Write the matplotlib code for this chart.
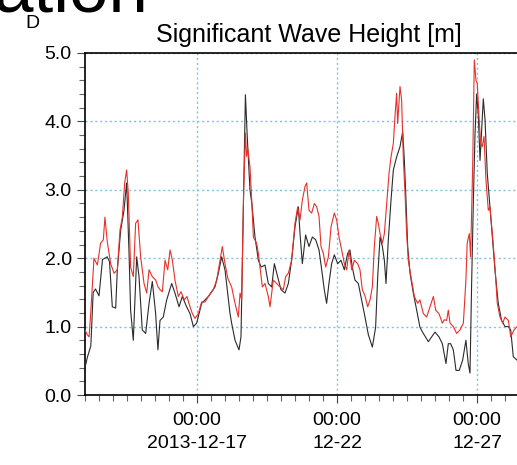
import matplotlib
matplotlib.use('Agg')
import matplotlib.pyplot as plt
import matplotlib.dates as mdates
import numpy as np
from matplotlib.ticker import MultipleLocator

plt.rcParams['font.family'] = ['Liberation Sans', 'DejaVu Sans']

start = np.datetime64('2013-12-13T00:00')

# 黑线: 小时 (从 12-13 00:00 起) 和有效波高 [m]
black_hours = [0, 2, 5, 7, 9, 12, 15, 19, 21, 23.4, 26.3, 27.7, 30.6, 33.4, 35.7, 37.7,
               39.1, 41.4, 44.3, 46.3, 49.1, 52, 54.9, 57.7, 60.5, 62.5, 64.3, 67.1, 70,
               74.3, 77.1, 80.6, 83.4, 87.1, 90, 92.9, 95.7, 100, 105.7, 111.4, 114.3,
               117.1, 120, 122.5, 124.3, 125.7, 128.6, 132, 133.7, 135.5, 137.5, 139,
               141.4, 143, 145.7, 148.6, 151, 154.3, 157.1, 160, 162.3, 165.1, 168,
               171.4, 174.3, 177.1, 180, 182.9, 184.3, 186.3, 189.1, 192, 194.9, 197.7,
               200.6, 202.9, 205.1, 207.1, 209.1, 211.4, 213.7, 216.6, 219.4, 222.3,
               225.1, 227.1, 229.1, 231.4, 234.3, 237.1, 240, 242.9, 246.3, 249.1,
               250.9, 252.9, 254.9, 256.6, 258, 260, 262.3, 264.3, 267.1, 270, 272.3,
               273.7, 274.9, 276.6, 278.6, 281.4, 284.3, 287.1, 290, 294.3, 297.1, 300,
               303.4, 306.3, 309.4, 311.4, 313.4, 315.7, 318, 320.8, 323.7, 326.5,
               328.5, 330, 331.4, 332.9, 334.3, 335.7, 337.1, 338.6, 340, 341.4, 342.9,
               344.8, 347.1, 349.4, 351.4, 354.2, 357.1, 360, 362.9, 364.9, 367.1,
               370.3, 373]
black_hs = [0.40, 0.55, 0.72, 1.50, 1.55, 1.45, 1.98, 2.02, 1.95, 1.29, 1.27, 1.83, 2.41,
            2.70, 3.10, 2.10, 1.24, 0.80, 2.02, 1.73, 0.95, 0.90, 1.34, 1.66, 1.20, 0.66,
            1.09, 1.14, 1.39, 1.63, 1.49, 1.29, 1.44, 1.29, 1.19, 1.00, 1.05, 1.34, 1.44,
            1.58, 1.78, 2.02, 1.83, 1.45, 1.19, 1.05, 0.80, 0.66, 0.85, 2.50, 4.39, 3.80,
            3.00, 2.80, 2.31, 1.97, 1.87, 1.90, 1.63, 1.58, 1.92, 1.73, 1.54, 1.49, 1.63,
            1.97, 2.46, 2.75, 2.36, 1.92, 2.34, 2.17, 2.31, 2.27, 2.12, 1.83, 1.54, 1.34,
            1.63, 1.92, 2.05, 1.92, 1.97, 1.83, 2.07, 2.12, 1.87, 1.68, 1.63, 1.39, 1.14,
            0.88, 0.70, 0.99, 1.73, 2.31, 2.17, 1.97, 1.63, 2.27, 2.85, 3.29, 3.48, 3.63,
            3.85, 3.44, 2.95, 2.17, 1.78, 1.49, 1.24, 0.99, 0.90, 0.78, 0.85, 0.92, 0.85,
            0.75, 0.46, 0.75, 0.75, 0.66, 0.36, 0.36, 0.51, 0.80, 0.46, 0.32, 1.63, 2.85,
            3.82, 4.40, 4.10, 3.43, 3.87, 4.33, 4.02, 3.24, 2.75, 2.26, 1.83, 1.34, 1.09,
            1.00, 1.00, 0.95, 0.56, 0.51, 0.50]

# 红线
red_hours = [0, 2, 3.5, 4.9, 7.7, 10.6, 13.4, 15.7, 17.1, 19.1, 22, 24.9, 27.7, 30, 32,
             34, 35.7, 37.1, 39.1, 41.4, 43.4, 45.4, 47.7, 50.6, 52.9, 54.9, 57.7, 60.6,
             62.6, 64.3, 66.3, 68.6, 70.9, 72.9, 74.9, 77.1, 80, 82.3, 85.1, 87.4, 90, 92,
             94.3, 97.1, 100, 102.9, 105.7, 110, 112.9, 115.7, 117.7, 120, 122.5, 125.7,
             128.6, 131.4, 132.9, 134.3, 136, 137.5, 138.5, 139.5, 141.4, 142.9, 144.3,
             147.1, 148.6, 150, 152, 154.3, 157.1, 158.6, 161.4, 164.3, 167.1, 170, 172,
             174.3, 177.1, 180, 182.3, 184.3, 186.3, 188.6, 190, 192, 194.3, 196.6,
             198.6, 200.6, 202.3, 204.3, 206.3, 208.6, 210.9, 213.7, 215.7, 217.7, 220,
             222.3, 224.3, 226.3, 228.6, 230.9, 233.7, 235.7, 237.7, 240, 242.3, 244.3,
             246.3, 248, 250, 251.4, 252.9, 254.9, 256.6, 258.6, 260.6, 262.3, 264.3,
             265.7, 267.1, 268, 270, 271.4, 272.9, 274.3, 275.7, 277.1, 279.4, 282.3,
             285.1, 287.1, 290, 292.9, 295.7, 298.6, 300.6, 303.4, 306.3, 308, 310,
             311.4, 312.9, 315.7, 318.6, 321.4, 324.3, 326.5, 327.6, 329.4, 330.5, 332.3,
             333.7, 335.1, 336.2, 337.7, 339.1, 340.5, 342, 343.7, 345.7, 347.1, 349.4,
             351.4, 353.4, 355.7, 358, 360, 362.9, 364.9, 367.7, 370.3, 373]
red_hs = [0.95, 0.88, 0.85, 1.20, 2.00, 1.90, 2.22, 2.27, 2.60, 2.24, 1.92, 1.78, 1.83,
          2.41, 2.60, 3.10, 3.29, 2.95, 1.87, 1.73, 2.51, 2.56, 2.02, 1.63, 1.49, 1.83,
          1.73, 1.68, 1.58, 1.54, 1.51, 1.97, 1.83, 2.12, 1.97, 1.68, 1.44, 1.51, 1.39,
          1.44, 1.29, 1.19, 1.12, 1.19, 1.36, 1.36, 1.44, 1.54, 1.68, 1.97, 2.17, 1.92,
          1.70, 1.58, 1.34, 1.14, 1.49, 1.39, 3.00, 3.83, 3.49, 3.60, 3.34, 2.85, 2.31,
          2.22, 2.07, 1.87, 1.58, 1.63, 1.44, 1.29, 1.68, 1.63, 1.58, 1.54, 1.73, 1.78,
          1.97, 2.51, 2.75, 2.56, 2.85, 3.05, 3.10, 2.70, 2.66, 2.80, 2.75, 2.61, 2.17,
          2.07, 1.87, 2.02, 2.46, 2.66, 2.56, 2.31, 2.12, 1.92, 1.83, 2.12, 1.83, 1.97,
          1.92, 1.83, 1.54, 1.45, 1.29, 1.39, 1.58, 2.17, 2.61, 2.51, 2.36, 2.22, 2.36,
          2.80, 3.24, 3.48, 3.68, 4.07, 4.41, 3.97, 4.51, 4.31, 3.44, 2.95, 2.36, 1.97,
          1.73, 1.44, 1.34, 1.39, 1.19, 1.14, 1.29, 1.44, 1.24, 1.19, 1.05, 1.10, 1.09,
          1.24, 1.05, 1.00, 0.90, 0.95, 1.05, 1.68, 2.22, 2.36, 2.02, 3.34, 4.90, 4.60,
          4.56, 4.07, 3.68, 3.63, 3.78, 3.14, 2.70, 2.75, 2.31, 1.87, 1.34, 1.14, 1.05,
          1.14, 1.09, 0.85, 0.95, 1.00, 1.02]

tick_dates = ['2013-12-17', '2013-12-22', '2013-12-27']
tick_labels = ['00:00\n2013-12-17', '00:00\n12-22', '00:00\n12-27']


def to_time(hours):
    return start + np.round(np.array(hours) * 60).astype('timedelta64[m]')


fig = plt.figure(figsize=(5.17, 4.65), dpi=100)
ax = fig.add_axes([85 / 517, 70 / 465, 448 / 517, 342 / 465])

ax.plot(to_time(black_hours), black_hs, color='#2b2b2b', lw=0.8, zorder=3)
ax.plot(to_time(red_hours), red_hs, color='#e8302a', lw=0.8, zorder=4)

ax.set_xlim(start, start + np.timedelta64(16, 'D'))
ax.set_ylim(0, 5)

ax.set_xticks(np.array(tick_dates, dtype='datetime64[m]'))
ax.set_xticklabels(tick_labels, linespacing=1.45)
ax.xaxis.set_minor_locator(mdates.HourLocator(byhour=[0, 12]))
ax.yaxis.set_major_locator(MultipleLocator(1))
ax.yaxis.set_minor_locator(MultipleLocator(0.2))
ax.yaxis.set_major_formatter(plt.FormatStrFormatter('%.1f'))

ax.tick_params(axis='both', which='major', labelsize=14, length=6, width=0.8, color='#444444')
ax.tick_params(axis='both', which='minor', length=4, width=0.8, color='#666666')
ax.tick_params(axis='x', pad=6)

ax.grid(True, which='major', linestyle=(0, (1.5, 2)), color='#7ec3e3', lw=1.0, zorder=1)

for side in ['left', 'bottom', 'top']:
    ax.spines[side].set_linewidth(1.2)
ax.spines['right'].set_visible(False)

ax.set_title('Significant Wave Height [m]', fontsize=18, pad=8)

# 上方被截断的正文标题
fig.text(-0.012, 1 - 12 / 465, 'ation', fontsize=51, ha='left', va='baseline')
fig.text(25 / 517, 1 - 28 / 465, 'D', fontsize=14, ha='left', va='baseline')

fig.savefig('out.png', dpi=100)
